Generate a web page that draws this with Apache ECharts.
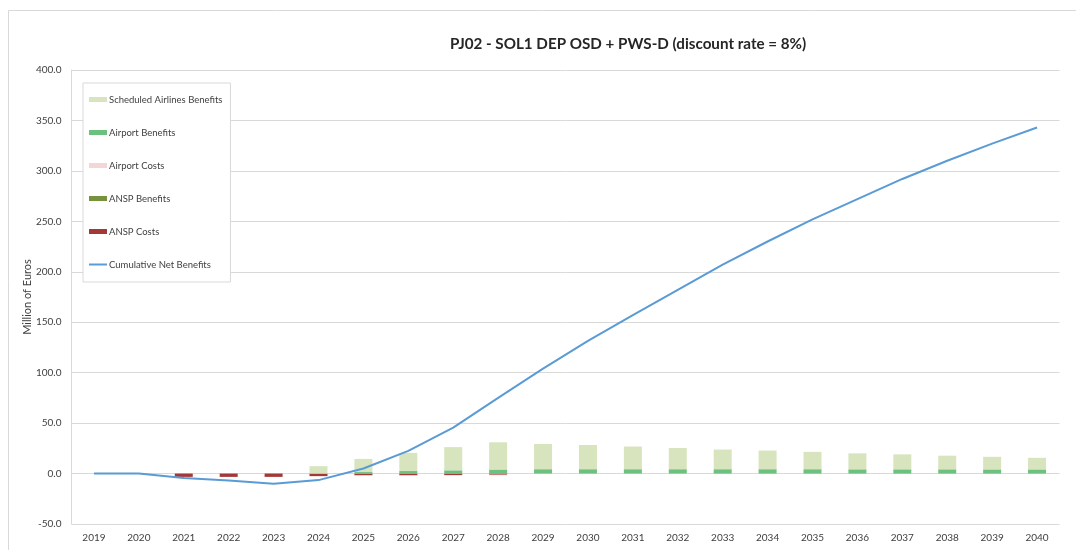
<!DOCTYPE html>
<html>
<head>
<meta charset="utf-8">
<script src="https://cdn.jsdelivr.net/npm/echarts@6/dist/echarts.min.js"></script>
<style>
html,body{margin:0;padding:0;background:#fff;}
#chart{width:1076px;height:550px;}
</style>
</head>
<body>
<div id="chart"></div>
<script>
var years = ['2019','2020','2021','2022','2023','2024','2025','2026','2027','2028','2029','2030','2031','2032','2033','2034','2035','2036','2037','2038','2039','2040'];
var scheduledAirlinesBenefits = [0,0,0,0,0,7.3,13,18,23,27,25,24,22.5,21,19.5,18.5,17.2,15.8,14.8,13.5,12.5,11.5];
var airportBenefits = [0,0,0,0,0,0,1.5,2.5,3.2,4,4.3,4.3,4.3,4.3,4.3,4.3,4.3,4.2,4.2,4.2,4.1,4.1];
var airportCosts = [0,0,0,0,0,-0.5,-0.6,-0.6,-0.6,-0.6,-0.5,-0.5,-0.5,-0.5,0,0,0,0,0,0,0,0];
var anspBenefits = [0,0,0,0,0,0,0,0,0,0,0,0,0,0,0,0,0,0,0,0,0,0];
var anspCosts = [0,0,-3.3,-3.3,-3.3,-2.5,-1.8,-1.8,-1.5,-1.2,0,0,0,0,0,0,0,0,0,0,0,0];
var cumulativeNetBenefits = [0,0,-4.3,-7,-10,-6.5,5,22.5,45.5,75,104,131.5,157,182,207,230,252,272,292,310,327,343];
var yTicks = {min:-50, max:400, interval:50};

var font = 'Lato, "Open Sans", sans-serif';
var chart = echarts.init(document.getElementById('chart'));
var barW = 18;
var clear = 'rgba(0,0,0,0)';
chart.setOption({
  animation:false,
  graphic:[{type:'rect',shape:{x:8.5,y:10.5,width:1200,height:700},style:{fill:'none',stroke:'#d9d9d9',lineWidth:1},silent:true}],
  title:{text:'PJ02 - SOL1 DEP OSD + PWS-D (discount rate = 8%)',left:445,top:32,
    textStyle:{fontFamily:font,fontSize:15.2,fontWeight:'bold',color:'#262626'}},
  legend:{orient:'vertical',left:83,top:83,width:147,
    padding:[11,8,12,5],itemGap:22,itemWidth:18,itemHeight:5,
    borderColor:'#d9d9d9',borderWidth:1,backgroundColor:'#fff',
    textStyle:{fontFamily:font,fontSize:9.5,color:'#404040',padding:[0,0,0,-3],height:11,lineHeight:11},
    data:[{name:'Scheduled Airlines Benefits',icon:'rect'},{name:'Airport Benefits',icon:'rect'},{name:'Airport Costs',icon:'rect'},{name:'ANSP Benefits',icon:'rect'},{name:'ANSP Costs',icon:'rect'},
      {name:'Cumulative Net Benefits',itemStyle:{color:clear,borderColor:clear,borderWidth:0}}]},
  grid:{left:71.5,right:16.5,top:70,bottom:26,containLabel:false},
  xAxis:{type:'category',data:years,
    axisLine:{show:false,onZero:false},axisTick:{show:false},
    axisLabel:{fontFamily:font,fontSize:10,color:'#404040',margin:9}},
  yAxis:{type:'value',min:yTicks.min,max:yTicks.max,interval:yTicks.interval,
    name:'Million of Euros',nameLocation:'middle',nameRotate:90,nameGap:39,nameMoveOverlap:false,
    nameTextStyle:{fontFamily:font,fontSize:11,color:'#404040'},
    axisLine:{show:true,lineStyle:{color:'#d9d9d9'}},axisTick:{show:false},
    axisLabel:{fontFamily:font,fontSize:10,color:'#404040',margin:10,formatter:function(v){return v.toFixed(1);}},
    splitLine:{lineStyle:{color:'#d9d9d9'}}},
  series:[
    {name:'ANSP Costs',type:'bar',stack:'s',barWidth:barW,data:anspCosts,itemStyle:{color:'#a33838'}},
    {name:'Airport Costs',type:'bar',stack:'s',barWidth:barW,data:airportCosts,itemStyle:{color:'#f4d6d6'}},
    {name:'Airport Benefits',type:'bar',stack:'s',barWidth:barW,data:airportBenefits,itemStyle:{color:'#6cc17f'}},
    {name:'ANSP Benefits',type:'bar',stack:'s',barWidth:barW,data:anspBenefits,itemStyle:{color:'#76923c'}},
    {name:'Scheduled Airlines Benefits',type:'bar',stack:'s',barWidth:barW,data:scheduledAirlinesBenefits,itemStyle:{color:'#d7e4bd'}},
    {name:'Cumulative Net Benefits',type:'line',data:cumulativeNetBenefits,symbol:'none',smooth:false,
      lineStyle:{color:'#5b9bd5',width:2},itemStyle:{color:'#5b9bd5'},z:5}
  ]
});
</script>
</body>
</html>
